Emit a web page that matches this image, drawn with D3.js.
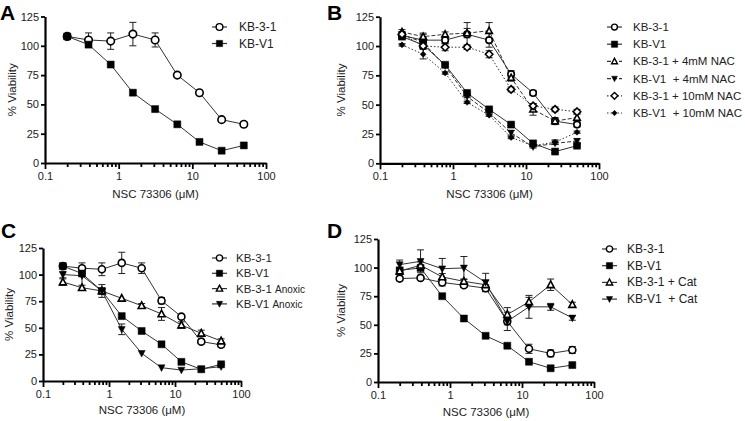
<!DOCTYPE html>
<html><head><meta charset="utf-8">
<script src="https://cdn.jsdelivr.net/npm/d3@7"></script>
<style>body{margin:0;background:#fff} text{font-family:"Liberation Sans",Arial,sans-serif;}</style>
</head><body><svg id="c" width="745" height="421"></svg>
<script>
// ---------- data ----------
const doses = [0.2, 0.39, 0.78, 1.56, 3.125, 6.25, 12.5, 25, 50];
const yTicks = [0, 25, 50, 75, 100, 125];
const xTicks = [0.1, 1, 10, 100];
const xTickLabels = ["0.1", "1", "10", "100"];
const xTitle = "NSC 73306 (μM)";
const yTitle = "% Viability";

// Panel A
const A_kb31 = [108, 105, 104, 110, 105, 75, 60, 37, 33];
const A_kb31_err = [0, 6, 7, 10, 6, 2, 2, 2, 2];
const A_kbv1 = [108, 101, 84, 60, 46, 33, 18, 10.5, 15];
const A_kbv1_err = [0, 2, 0, 0, 0, 0, 0, 0, 0];

// Panel B
const B_kb31 = [109, 105, 105, 110, 105, 76, 60, 36, 33];
const B_kb31_err = [2, 6, 3, 10, 6, 3, 2, 2, 2];
const B_kbv1 = [108, 101, 84, 60, 46, 33, 17, 10, 15];
const B_kbv1_err = [2, 3, 1, 1, 1, 1, 1, 1, 1];
const B_kb31_nac4 = [112, 108, 110, 111, 113, 73, 46, 36, 39];
const B_kb31_nac4_err = [2, 2, 2, 4, 7, 3, 5, 3, 3];
const B_kbv1_nac4 = [110, 103, 83, 57, 43, 26, 14, 17, 19];
const B_kbv1_nac4_err = [2, 2, 1, 1, 1, 2, 1, 1, 2];
const B_kb31_nac10 = [110, 100, 99, 99, 93, 63, 49, 46, 44];
const B_kb31_nac10_err = [2, 2, 3, 2, 3, 2, 2, 2, 2];
const B_kbv1_nac10 = [101, 93, 77, 52, 41, 22, 15, 18, 26.5];
const B_kbv1_nac10_err = [1, 4, 1, 1, 1, 1, 1, 2, 1];

// Panel C
const C_kb31 = [108, 106, 105, 111, 106, 75.5, 60.5, 37, 34];
const C_kb31_err = [0, 5, 6, 10, 5, 3, 2, 2, 2];
const C_kbv1 = [108, 101, 84.6, 61, 47, 34.5, 18, 11, 15.7];
const C_kbv1_err = [0, 2, 6, 0, 0, 0, 0, 0, 0];
const C_kb31_anox = [93, 87.7, 84.6, 77.7, 70.8, 63, 52.6, 44.8, 37.6];
const C_kb31_anox_err = [3, 0, 0, 0, 2, 6, 3, 3, 2];
const C_kbv1_anox = [100, 99, 84.6, 48.6, 26, 12.5, 10.3, 11.5, 13.5];
const C_kbv1_anox_err = [3, 9, 2, 5, 0, 0, 0, 0, 0];

// Panel D
const D_kb31 = [90.4, 91, 87, 84.6, 82, 53, 29, 25, 28];
const D_kb31_err = [2, 1, 3, 2, 3, 3, 4, 3, 3];
const D_kbv1 = [97.6, 99.7, 75, 55.5, 40.4, 31.7, 17.7, 12, 14.8];
const D_kbv1_err = [1, 1, 0, 0, 0, 0, 0, 0, 0];
const D_kb31_cat = [97, 102, 91.8, 88, 85, 59, 70, 85, 67.7];
const D_kb31_cat_err = [3, 3, 3, 2, 4, 6, 4, 5, 2];
const D_kbv1_cat = [102.6, 105.5, 99, 99.7, 87, 53, 65.7, 65.7, 56];
const D_kbv1_cat_err = [4, 10, 9, 10, 8, 8, 10, 3, 2];

// ---------- drawing ----------
const svg = d3.select("#c");
const lineCol = "#333";

function markerPath(shape, size) {
  const s = size;
  switch (shape) {
    case "circle": return d3.symbol(d3.symbolCircle, s * s * Math.PI / 4)();
    case "square": return d3.symbol(d3.symbolSquare, s * s)();
    case "triangle": {
      const h = s * 0.9, w = s;
      return `M0,${-h*0.6}L${w/2},${h*0.45}L${-w/2},${h*0.45}Z`;
    }
    case "itriangle": {
      const h = s * 0.9, w = s;
      return `M0,${h*0.6}L${w/2},${-h*0.45}L${-w/2},${-h*0.45}Z`;
    }
    case "diamond": return `M0,${-s/2}L${s/2},0L0,${s/2}L${-s/2},0Z`;
    default: return d3.symbol(d3.symbolCircle, s * s)();
  }
}

function drawPanel(p) {
  const g = svg.append("g");
  const x = d3.scaleLog().domain([0.1, 100]).range([p.x0, p.x1]);
  const y = d3.scaleLinear().domain([0, 125]).range([p.yBot, p.yTop]);

  // y axis
  const ya = g.append("g").attr("transform", `translate(${p.x0},0)`)
    .call(d3.axisLeft(y).tickValues(yTicks).tickSize(4).tickSizeOuter(0).tickPadding(2));
  ya.select(".domain").attr("stroke", "#000").attr("stroke-width", 2.2);
  ya.selectAll(".tick line").attr("stroke", "#000").attr("stroke-width", 1.8);
  ya.selectAll(".tick text").attr("font-size", 11).attr("fill", "#222").attr("font-family", "Liberation Sans, Arial, sans-serif");

  // x axis minor
  const minors = [];
  for (let d = 0.1; d < 100; d *= 10) for (let k = 2; k <= 9; k++) minors.push(d * k);
  const xm = g.append("g").attr("transform", `translate(0,${p.yBot})`)
    .call(d3.axisBottom(x).tickValues(minors).tickSize(4).tickSizeOuter(0).tickFormat(""));
  xm.select(".domain").remove();
  xm.selectAll(".tick line").attr("stroke", "#000").attr("stroke-width", 1.8);
  const xa = g.append("g").attr("transform", `translate(0,${p.yBot})`)
    .call(d3.axisBottom(x).tickValues(xTicks).tickSize(6).tickSizeOuter(0).tickPadding(3)
      .tickFormat((d, i) => xTickLabels[i]));
  xa.select(".domain").attr("stroke", "#000").attr("stroke-width", 2.2);
  xa.selectAll(".tick line").attr("stroke", "#000").attr("stroke-width", 1.8);
  xa.selectAll(".tick text").attr("font-size", 11).attr("fill", "#222").attr("font-family", "Liberation Sans, Arial, sans-serif");

  // titles
  g.append("text").attr("x", (p.x0 + p.x1) / 2).attr("y", p.xTitleY).attr("text-anchor", "middle")
    .attr("font-size", 11.5).attr("fill", "#222").text(xTitle);
  g.append("text").attr("transform", `translate(${p.yTitleX},${(p.yTop + p.yBot) / 2}) rotate(-90)`)
    .attr("text-anchor", "middle").attr("font-size", 11.5).attr("fill", "#222").text(yTitle);
  g.append("text").attr("x", p.letterX).attr("y", p.letterY).attr("font-size", 21).attr("font-weight", "bold")
    .attr("font-family", "Open Sans, Liberation Sans, sans-serif").attr("fill", "#000").text(p.letter);

  const line = d3.line().x((d, i) => x(doses[i])).y(d => y(d));
  // series lines
  p.series.forEach(s => {
    g.append("path").attr("d", line(s.values)).attr("fill", "none").attr("stroke", lineCol)
      .attr("stroke-width", 1).attr("stroke-dasharray", s.dash || null);
  });
  // error bars + markers
  p.series.forEach(s => {
    const eb = g.append("g").attr("stroke", "#222").attr("stroke-width", 1);
    s.values.forEach((v, i) => {
      const e = s.err[i];
      if (!e) return;
      const cx = x(doses[i]);
      eb.append("line").attr("x1", cx).attr("x2", cx).attr("y1", y(v - e)).attr("y2", y(v + e));
      eb.append("line").attr("x1", cx - 3.5).attr("x2", cx + 3.5).attr("y1", y(v + e)).attr("y2", y(v + e));
      eb.append("line").attr("x1", cx - 3.5).attr("x2", cx + 3.5).attr("y1", y(v - e)).attr("y2", y(v - e));
    });
  });
  p.series.forEach(s => {
    g.append("g").selectAll("path").data(s.values).join("path")
      .attr("transform", (d, i) => `translate(${x(doses[i])},${y(d)})`)
      .attr("d", markerPath(s.shape, s.size || p.msize))
      .attr("fill", s.filled ? "#000" : "#fff").attr("stroke", "#000").attr("stroke-width", s.filled ? 0.5 : 1.6);
  });

  // legend
  const lg = g.append("g").attr("transform", `translate(${p.legX},${p.legY})`);
  p.series.forEach((s, i) => {
    const yy = i * p.legDy;
    lg.append("line").attr("x1", 0).attr("x2", 15).attr("y1", yy).attr("y2", yy).attr("stroke", lineCol)
      .attr("stroke-width", 1.2).attr("stroke-dasharray", s.dash || null);
    lg.append("path").attr("transform", `translate(7.5,${yy})`).attr("d", markerPath(s.shape, (s.size || p.msize) * 0.9))
      .attr("fill", s.filled ? "#000" : "#fff").attr("stroke", "#000").attr("stroke-width", s.filled ? 0.5 : 1.4);
    const t = lg.append("text").attr("x", p.legTextDx).attr("y", yy + 4).attr("font-size", p.legFont)
      .attr("fill", "#222").style("white-space", "pre");
    if (s.small) {
      t.append("tspan").text(s.name);
      t.append("tspan").attr("font-size", p.legFont - 1.5).text(s.small);
    } else t.text(s.name);
  });
}

drawPanel({
  letter: "A", letterX: 0, letterY: 20,
  x0: 45, x1: 266, yTop: 16.5, yBot: 163, xTitleY: 198, yTitleX: 16, msize: 7.5,
  legX: 212, legY: 27, legDy: 16.5, legTextDx: 27, legFont: 12,
  series: [
    {name: "KB-3-1", values: A_kb31, err: A_kb31_err, shape: "circle", filled: false},
    {name: "KB-V1", values: A_kbv1, err: A_kbv1_err, shape: "square", filled: true, size: 7}
  ]
});

drawPanel({
  letter: "B", letterX: 327, letterY: 20,
  x0: 380, x1: 599, yTop: 16.7, yBot: 163.3, xTitleY: 198, yTitleX: 345, msize: 6.5,
  legX: 607, legY: 27, legDy: 17.2, legTextDx: 26, legFont: 11.5,
  series: [
    {name: "KB-3-1", values: B_kb31, err: B_kb31_err, shape: "circle", filled: false},
    {name: "KB-V1", values: B_kbv1, err: B_kbv1_err, shape: "square", filled: true, size: 7},
    {name: "KB-3-1 + 4mM NAC", values: B_kb31_nac4, err: B_kb31_nac4_err, shape: "triangle", filled: false, dash: "4,2"},
    {name: "KB-V1  + 4mM NAC", values: B_kbv1_nac4, err: B_kbv1_nac4_err, shape: "itriangle", filled: true, dash: "4,2"},
    {name: "KB-3-1 + 10mM NAC", values: B_kb31_nac10, err: B_kb31_nac10_err, shape: "diamond", filled: false, dash: "1.5,2", size: 7.5},
    {name: "KB-V1  + 10mM NAC", values: B_kbv1_nac10, err: B_kbv1_nac10_err, shape: "diamond", filled: true, dash: "1.5,2", size: 6}
  ]
});

drawPanel({
  letter: "C", letterX: 1, letterY: 238,
  x0: 43, x1: 241, yTop: 248, yBot: 381, xTitleY: 414, yTitleX: 13, msize: 7,
  legX: 212, legY: 258, legDy: 15.3, legTextDx: 24, legFont: 11.5,
  series: [
    {name: "KB-3-1", values: C_kb31, err: C_kb31_err, shape: "circle", filled: false},
    {name: "KB-V1", values: C_kbv1, err: C_kbv1_err, shape: "square", filled: true, size: 7},
    {name: "KB-3-1 ", small: "Anoxic", values: C_kb31_anox, err: C_kb31_anox_err, shape: "triangle", filled: false},
    {name: "KB-V1 ", small: "Anoxic", values: C_kbv1_anox, err: C_kbv1_anox_err, shape: "itriangle", filled: true}
  ]
});

drawPanel({
  letter: "D", letterX: 327, letterY: 238,
  x0: 378, x1: 594, yTop: 239, yBot: 382, xTitleY: 416, yTitleX: 345, msize: 7,
  legX: 602, legY: 249, legDy: 16.7, legTextDx: 25, legFont: 12,
  series: [
    {name: "KB-3-1", values: D_kb31, err: D_kb31_err, shape: "circle", filled: false},
    {name: "KB-V1", values: D_kbv1, err: D_kbv1_err, shape: "square", filled: true, size: 7},
    {name: "KB-3-1 + Cat", values: D_kb31_cat, err: D_kb31_cat_err, shape: "triangle", filled: false},
    {name: "KB-V1  + Cat", values: D_kbv1_cat, err: D_kbv1_cat_err, shape: "itriangle", filled: true}
  ]
});
</script></body></html>
